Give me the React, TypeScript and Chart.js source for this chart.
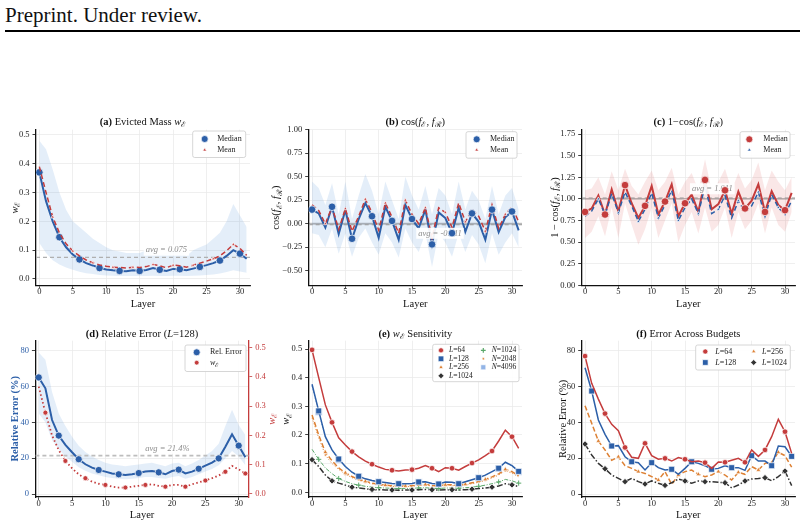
import React, { useEffect, useRef } from 'react';
import { Chart, registerables } from 'chart.js';
Chart.register(...registerables);

const FONT = '"Liberation Serif", "Times New Roman", "DejaVu Serif", serif';

// ---------------- data ----------------
const LAYERS = [0, 1, 2, 3, 4, 5, 6, 7, 8, 9, 10, 11, 12, 13, 14, 15, 16, 17, 18, 19, 20, 21, 22, 23, 24, 25, 26, 27, 28, 29, 30, 31];
const X_TICKS = [0, 5, 10, 15, 20, 25, 30];

// (a) evicted mass
const A_MEDIAN = [0.37, 0.27, 0.2, 0.145, 0.11, 0.085, 0.068, 0.055, 0.047, 0.038, 0.033, 0.03, 0.028, 0.027, 0.03, 0.028, 0.031, 0.038, 0.032, 0.028, 0.035, 0.034, 0.03, 0.036, 0.042, 0.048, 0.055, 0.064, 0.08, 0.1, 0.088, 0.07];
const A_MEAN = [0.39, 0.3, 0.215, 0.16, 0.122, 0.097, 0.08, 0.066, 0.056, 0.049, 0.044, 0.041, 0.04, 0.038, 0.041, 0.04, 0.043, 0.05, 0.046, 0.039, 0.048, 0.046, 0.041, 0.048, 0.055, 0.062, 0.07, 0.08, 0.098, 0.12, 0.106, 0.082];
const A_HI = [0.48, 0.45, 0.38, 0.3, 0.24, 0.2, 0.18, 0.16, 0.14, 0.125, 0.11, 0.1, 0.095, 0.09, 0.09, 0.09, 0.1, 0.1, 0.085, 0.09, 0.1, 0.095, 0.08, 0.1, 0.11, 0.12, 0.14, 0.16, 0.2, 0.26, 0.22, 0.18];
const A_LO = [0.125, 0.09, 0.065, 0.05, 0.04, 0.032, 0.025, 0.02, 0.017, 0.014, 0.012, 0.011, 0.01, 0.01, 0.01, 0.01, 0.01, 0.011, 0.01, 0.01, 0.011, 0.011, 0.01, 0.011, 0.012, 0.014, 0.016, 0.019, 0.024, 0.03, 0.026, 0.022];
const AVG_A = 0.075;
const A_YTICKS = [0, 0.1, 0.2, 0.3, 0.4, 0.5];

// (b) cos
const B_MEDIAN = [0.15, 0.11, -0.04, 0.18, -0.11, 0.145, -0.16, 0.05, 0.22, 0.08, -0.15, 0.18, 0.03, -0.17, 0.2, 0.05, -0.05, 0.15, -0.22, 0.12, 0.06, -0.1, 0.17, -0.085, 0.11, 0.02, -0.17, 0.15, -0.09, 0.07, 0.13, -0.07];
const B_MEAN = [0.2, 0.14, 0.0, 0.18, -0.06, 0.16, -0.08, 0.08, 0.26, 0.12, -0.07, 0.22, 0.07, -0.1, 0.25, 0.1, 0.0, 0.17, -0.15, 0.17, 0.12, -0.04, 0.22, 0.02, 0.15, 0.08, -0.08, 0.2, -0.05, 0.1, 0.18, 0.02];
const B_HI = [0.45, 0.38, 0.2, 0.43, 0.1, 0.45, 0.05, 0.3, 0.53, 0.35, 0.1, 0.45, 0.25, 0.05, 0.5, 0.3, 0.15, 0.4, 0.1, 0.38, 0.3, 0.1, 0.45, 0.15, 0.35, 0.25, 0.05, 0.4, 0.1, 0.3, 0.38, 0.15];
const B_LO = [-0.1, -0.12, -0.25, -0.05, -0.32, -0.1, -0.35, -0.15, -0.05, -0.2, -0.33, -0.1, -0.2, -0.36, -0.05, -0.2, -0.3, -0.1, -0.46, -0.1, -0.2, -0.35, -0.1, -0.3, -0.12, -0.22, -0.42, -0.1, -0.33, -0.2, -0.1, -0.25];
const AVG_B = -0.011;
const B_YTICKS = [-0.5, -0.25, 0, 0.25, 0.5, 0.75, 1.0];

// (c) 1 - cos
const C_MEDIAN = [0.85, 0.89, 1.04, 0.82, 1.11, 0.855, 1.16, 0.95, 0.78, 0.92, 1.15, 0.82, 0.97, 1.17, 0.8, 0.95, 1.05, 0.85, 1.22, 0.88, 0.94, 1.1, 0.83, 1.085, 0.89, 0.98, 1.17, 0.85, 1.09, 0.93, 0.87, 1.07];
const C_MEAN = [0.8, 0.86, 1.0, 0.82, 1.06, 0.84, 1.08, 0.92, 0.74, 0.88, 1.07, 0.78, 0.93, 1.1, 0.75, 0.9, 1.0, 0.83, 1.15, 0.83, 0.88, 1.04, 0.78, 0.98, 0.85, 0.92, 1.08, 0.8, 1.05, 0.9, 0.82, 0.98];
const C_HI = [1.1, 1.12, 1.25, 1.05, 1.32, 1.1, 1.35, 1.15, 1.05, 1.2, 1.33, 1.1, 1.2, 1.36, 1.05, 1.2, 1.3, 1.1, 1.46, 1.1, 1.2, 1.35, 1.1, 1.3, 1.12, 1.22, 1.42, 1.1, 1.33, 1.2, 1.1, 1.25];
const C_LO = [0.55, 0.62, 0.8, 0.57, 0.9, 0.55, 0.95, 0.7, 0.47, 0.65, 0.9, 0.55, 0.75, 0.95, 0.5, 0.7, 0.85, 0.6, 0.9, 0.62, 0.7, 0.9, 0.55, 0.85, 0.65, 0.75, 0.95, 0.6, 0.9, 0.7, 0.62, 0.85];
const AVG_C = 1.011;
const C_YTICKS = [0, 0.25, 0.5, 0.75, 1.0, 1.25, 1.5, 1.75];

// (d) relative error L=128
const D_ERR = [65.1, 59, 41.3, 32.6, 27.4, 23.3, 19.4, 16.6, 14.7, 13.4, 12.5, 11.5, 11, 10.6, 11, 11.7, 12.5, 12.8, 12.1, 11, 12.8, 13.6, 11.5, 12.5, 14.1, 15.8, 17.5, 19.9, 26.4, 33.3, 27, 20.5];
const D_HI = [79, 75, 57, 45, 38, 32, 27, 23.5, 21, 19, 17.5, 16.5, 16, 15.5, 16, 16.5, 17, 17.5, 16.5, 15.5, 17, 17.5, 15.5, 17, 19, 21.5, 24, 28, 38, 47, 38.5, 33];
const D_LO = [45, 40, 30, 25, 21, 18, 15, 13, 11.5, 10.5, 9.5, 9, 8.5, 8.3, 8.5, 9, 9.5, 9.5, 9, 8.5, 9.5, 10, 8.5, 9.5, 11, 12.5, 14, 16, 20, 24, 21, 16];
const D_W = [0.367, 0.278, 0.2, 0.15, 0.113, 0.088, 0.067, 0.054, 0.042, 0.035, 0.031, 0.025, 0.022, 0.022, 0.025, 0.028, 0.031, 0.033, 0.028, 0.025, 0.031, 0.031, 0.025, 0.033, 0.04, 0.046, 0.054, 0.063, 0.076, 0.096, 0.084, 0.07];
const AVG_D = 21.4;
const PCT_YTICKS = [0, 20, 40, 60, 80];
const W_YTICKS = [0, 0.1, 0.2, 0.3, 0.4, 0.5];

// (e) w sensitivity
const E_L64 = [0.497, 0.4, 0.305, 0.244, 0.19, 0.165, 0.142, 0.124, 0.109, 0.098, 0.088, 0.08, 0.077, 0.074, 0.078, 0.079, 0.084, 0.093, 0.084, 0.072, 0.086, 0.084, 0.077, 0.09, 0.102, 0.113, 0.128, 0.144, 0.179, 0.217, 0.194, 0.153];
const E_L128 = [0.377, 0.284, 0.194, 0.148, 0.116, 0.09, 0.07, 0.056, 0.047, 0.041, 0.037, 0.034, 0.031, 0.03, 0.03, 0.031, 0.036, 0.037, 0.031, 0.029, 0.036, 0.035, 0.03, 0.037, 0.044, 0.051, 0.06, 0.072, 0.084, 0.105, 0.093, 0.073];
const E_L256 = [0.27, 0.2, 0.14, 0.11, 0.085, 0.068, 0.055, 0.045, 0.038, 0.032, 0.028, 0.025, 0.023, 0.022, 0.022, 0.023, 0.026, 0.027, 0.024, 0.022, 0.026, 0.026, 0.023, 0.028, 0.033, 0.038, 0.045, 0.054, 0.064, 0.08, 0.072, 0.058];
const E_L1024 = [0.114, 0.09, 0.06, 0.04, 0.032, 0.025, 0.018, 0.015, 0.012, 0.01, 0.009, 0.008, 0.008, 0.007, 0.008, 0.008, 0.009, 0.01, 0.009, 0.008, 0.009, 0.009, 0.008, 0.009, 0.011, 0.013, 0.015, 0.018, 0.022, 0.03, 0.026, 0.02];
const E_N1024 = [0.15, 0.115, 0.085, 0.065, 0.048, 0.038, 0.03, 0.025, 0.021, 0.018, 0.016, 0.015, 0.014, 0.013, 0.013, 0.014, 0.015, 0.016, 0.014, 0.013, 0.015, 0.015, 0.014, 0.016, 0.018, 0.021, 0.025, 0.03, 0.036, 0.045, 0.04, 0.032];
const E_N2048 = [0.26, 0.19, 0.13, 0.1, 0.08, 0.063, 0.051, 0.042, 0.035, 0.03, 0.026, 0.023, 0.021, 0.02, 0.02, 0.021, 0.024, 0.025, 0.022, 0.02, 0.024, 0.024, 0.021, 0.026, 0.03, 0.035, 0.042, 0.05, 0.06, 0.075, 0.067, 0.054];
const E_N4096 = [0.37, 0.28, 0.19, 0.145, 0.114, 0.088, 0.069, 0.055, 0.046, 0.04, 0.036, 0.033, 0.03, 0.029, 0.029, 0.03, 0.035, 0.036, 0.03, 0.028, 0.035, 0.034, 0.029, 0.036, 0.043, 0.05, 0.059, 0.071, 0.083, 0.103, 0.091, 0.072];

// (f) error across budgets
const F_L64 = [77, 61.8, 53, 44.9, 38.9, 35.4, 26, 20.5, 19.9, 28.3, 21.4, 19.4, 19.9, 18.4, 20.3, 19.4, 18, 18.4, 17.5, 14.3, 17.9, 17.7, 18.8, 19.9, 17.7, 24.6, 21, 24.6, 32, 41.7, 34.8, 22.7];
const F_L128 = [70.5, 57.5, 41.3, 33.3, 26.8, 27, 20.8, 18, 17.5, 13.4, 17.5, 14.7, 13.4, 13.8, 11, 14.3, 18, 17.1, 15.8, 13.8, 14.3, 15.8, 14.7, 14.7, 13.2, 21.4, 18.4, 18.4, 15.8, 26.8, 26.4, 21];
const F_L256 = [49.3, 39.5, 29.6, 24.6, 18.8, 20.8, 15.8, 14.3, 12.5, 11.5, 9.7, 7.8, 12.5, 5.4, 10.6, 12.5, 13.4, 11, 9.7, 10.6, 12.5, 10.6, 7.8, 12.1, 11, 15.3, 13.4, 17.1, 17.7, 23.3, 21.4, 15];
const F_L1024 = [27.9, 21.8, 17.1, 14.1, 10.6, 8.7, 6.9, 8.7, 6.9, 5.6, 7.3, 6, 4.8, 6.3, 8.4, 7.3, 6, 7.3, 6.9, 6.9, 6.5, 6.3, 3.4, 5, 7.3, 8.4, 8.7, 9.1, 7.4, 9.7, 12.8, 4.7];

// ---------------- styling ----------------
const BLUE = '#2c5fa8';
const RED = '#c43c3c';
const ORANGE = '#dd8033';
const DARK = '#333333';
const GREEN = '#5aa86a';
const LIGHTBLUE = '#92b4e6';
const BAND_BLUE = 'rgba(66,133,210,0.14)';
const BAND_RED = 'rgba(215,70,70,0.13)';

type Seg = { t: string; i?: boolean; b?: boolean; sub?: boolean };

function fontOf(s: Seg, size: number) {
  const sz = s.sub ? size * 0.72 : size;
  return `${s.i ? 'italic ' : ''}${s.b ? 'bold ' : ''}${sz}px ${FONT}`;
}
function richWidth(ctx: CanvasRenderingContext2D, segs: Seg[], size: number) {
  let w = 0;
  for (const s of segs) {
    ctx.font = fontOf(s, size);
    w += ctx.measureText(s.t).width;
  }
  return w;
}
function drawRich(ctx: CanvasRenderingContext2D, segs: Seg[], x: number, y: number, size: number, color: string, align: 'center' | 'left') {
  const w = richWidth(ctx, segs, size);
  let cx = align === 'center' ? x - w / 2 : x;
  ctx.fillStyle = color;
  ctx.textBaseline = 'middle';
  ctx.textAlign = 'left';
  for (const s of segs) {
    ctx.font = fontOf(s, size);
    ctx.fillText(s.t, cx, y + (s.sub ? size * 0.3 : 0));
    cx += ctx.measureText(s.t).width;
  }
}
function drawMarker(ctx: CanvasRenderingContext2D, style: string, x: number, y: number, r: number, fill: string) {
  ctx.beginPath();
  if (style === 'circle') ctx.arc(x, y, r, 0, Math.PI * 2);
  else if (style === 'rect') {
    const h = r * Math.SQRT1_2;
    ctx.rect(x - h, y - h, 2 * h, 2 * h);
  } else if (style === 'rectRot') {
    ctx.moveTo(x, y - r); ctx.lineTo(x + r, y); ctx.lineTo(x, y + r); ctx.lineTo(x - r, y); ctx.closePath();
  } else if (style === 'triangle') {
    ctx.moveTo(x, y - r); ctx.lineTo(x + r * 0.87, y + r * 0.5); ctx.lineTo(x - r * 0.87, y + r * 0.5); ctx.closePath();
  } else if (style === 'cross') {
    ctx.moveTo(x - r, y); ctx.lineTo(x + r, y); ctx.moveTo(x, y - r); ctx.lineTo(x, y + r);
    ctx.strokeStyle = fill; ctx.lineWidth = 1.2; ctx.stroke();
    return;
  }
  ctx.fillStyle = fill;
  ctx.fill();
  ctx.strokeStyle = 'rgba(255,255,255,0.9)';
  ctx.lineWidth = 0.8;
  ctx.stroke();
}

const pts = (ys: number[]) => LAYERS.map((x, i) => ({ x, y: ys[i] }));

interface LineOpt { width?: number; dash?: number[]; marker?: string; r?: number; every?: number; offset?: number; order?: number; axis?: string; pstroke?: string; pbw?: number; showLine?: boolean }
function lineDs(label: string, ys: number[], color: string, o: LineOpt) {
  const every = o.every ?? 3;
  return {
    label,
    data: pts(ys),
    borderColor: color,
    backgroundColor: color,
    borderWidth: o.width ?? 1.5,
    borderDash: o.dash ?? [],
    fill: false,
    showLine: o.showLine !== false,
    pointStyle: o.marker ?? 'circle',
    pointRadius: (c: any) => (o.r && typeof c.dataIndex === 'number' && c.dataIndex % every === (o.offset ?? 0) ? o.r : 0),
    pointHoverRadius: 0,
    pointBackgroundColor: color,
    pointBorderColor: o.pstroke ?? 'rgba(255,255,255,0.9)',
    pointBorderWidth: o.pbw ?? 0.8,
    yAxisID: o.axis ?? 'y',
    order: o.order ?? 2,
  };
}
function hline(y: number, color: string, width: number, dash: number[], order = 8, axis = 'y') {
  return { data: [{ x: -0.5, y }, { x: 31.5, y }], borderColor: color, borderWidth: width, borderDash: dash, pointRadius: 0, fill: false, order, yAxisID: axis };
}
function band(hi: number[], lo: number[], color: string) {
  return [
    { data: pts(hi), borderWidth: 0, borderColor: 'rgba(0,0,0,0)', backgroundColor: color, pointRadius: 0, fill: '+1', order: 20 },
    { data: pts(lo), borderWidth: 0, borderColor: 'rgba(0,0,0,0)', backgroundColor: color, pointRadius: 0, fill: false, order: 20 },
  ];
}

interface LegendEntry { style: string; color: string; r: number; label: Seg[]; col: number; row: number }
interface LegendSpec { rightOff: number; topOff: number; w: number; h: number; row0: number; rowH: number; mdx: number[]; tdx: number[]; size: number; entries: LegendEntry[] }
interface AxisSpec { min: number; max: number; ticks: number[]; dec: number; color: string }
interface Spec {
  left: number; top: number; W: number; H: number; yw: number; rw?: number; padRight: number; xh: number; areaTop: number;
  title: Seg[]; titleDy: number;
  ylabel: Seg[]; ylOff: number; ylColor: string;
  y2label?: Seg[]; y2Off?: number; y2Color?: string;
  legend: LegendSpec;
  avg?: { x: number; y: number; text: string; beforeIndex?: number };
  datasets: any[];
  y: AxisSpec; y2?: AxisSpec;
}

const fmt = (v: number, dec: number) => (v < 0 ? '\u2212' : '') + Math.abs(v).toFixed(dec);

function decor(spec: Spec) {
  const drawAvg = (chart: any) => {
    const a = spec.avg!;
    const ctx: CanvasRenderingContext2D = chart.ctx;
    const px = chart.scales.x.getPixelForValue(a.x);
    const py = chart.scales.y.getPixelForValue(a.y);
    ctx.save();
    ctx.font = `italic 8.5px ${FONT}`;
    const w = ctx.measureText(a.text).width;
    ctx.fillStyle = 'rgba(255,255,255,0.92)';
    ctx.fillRect(px - w / 2 - 2, py - 5.5, w + 4, 11);
    ctx.fillStyle = '#8c8c8c';
    ctx.textAlign = 'center';
    ctx.textBaseline = 'middle';
    ctx.fillText(a.text, px, py);
    ctx.restore();
  };
  return {
    id: 'decor',
    beforeDatasetDraw(chart: any, args: any) {
      if (spec.avg && spec.avg.beforeIndex === args.index) drawAvg(chart);
    },
    afterDatasetsDraw(chart: any) {
      if (spec.avg && spec.avg.beforeIndex === undefined) drawAvg(chart);
    },
    afterDraw(chart: any) {
      const ctx: CanvasRenderingContext2D = chart.ctx;
      const ca = chart.chartArea;
      const cx = (ca.left + ca.right) / 2;
      const cy = (ca.top + ca.bottom) / 2;
      ctx.save();
      drawRich(ctx, spec.title, cx, ca.top - spec.titleDy, 10.5, '#111', 'center');
      drawRich(ctx, [{ t: 'Layer' }], cx, ca.bottom + 18.7, 10.5, '#111', 'center');
      ctx.save();
      ctx.translate(ca.left - spec.ylOff, cy);
      ctx.rotate(-Math.PI / 2);
      drawRich(ctx, spec.ylabel, 0, 0, 10.5, spec.ylColor, 'center');
      ctx.restore();
      if (spec.y2label) {
        ctx.save();
        ctx.translate(ca.right + (spec.y2Off ?? 20), cy);
        ctx.rotate(-Math.PI / 2);
        drawRich(ctx, spec.y2label, 0, 0, 10.5, spec.y2Color ?? '#111', 'center');
        ctx.restore();
      }
      // legend
      const L = spec.legend;
      const bx = ca.right - L.rightOff - L.w;
      const by = ca.top + L.topOff;
      ctx.beginPath();
      const rr = 2;
      ctx.moveTo(bx + rr, by);
      ctx.arcTo(bx + L.w, by, bx + L.w, by + L.h, rr);
      ctx.arcTo(bx + L.w, by + L.h, bx, by + L.h, rr);
      ctx.arcTo(bx, by + L.h, bx, by, rr);
      ctx.arcTo(bx, by, bx + L.w, by, rr);
      ctx.closePath();
      ctx.fillStyle = 'rgba(255,255,255,0.92)';
      ctx.fill();
      ctx.strokeStyle = '#cccccc';
      ctx.lineWidth = 0.8;
      ctx.stroke();
      for (const e of L.entries) {
        const yy = by + L.row0 + e.row * L.rowH;
        drawMarker(ctx, e.style, bx + L.mdx[e.col], yy, e.r, e.color);
        drawRich(ctx, e.label, bx + L.tdx[e.col], yy, L.size, '#222', 'left');
      }
      ctx.restore();
    },
  };
}

function yScale(a: AxisSpec, width: number, position: 'left' | 'right', grid: boolean, borderColor: string) {
  return {
    type: 'linear',
    position,
    min: a.min,
    max: a.max,
    afterBuildTicks: (s: any) => {
      s.ticks = a.ticks.map((v) => ({ value: v }));
    },
    afterFit: (s: any) => {
      s.width = width;
    },
    ticks: { font: { family: FONT, size: 8.5 }, color: a.color, padding: 3, callback: (v: any) => fmt(Number(v), a.dec) },
    grid: { display: true, drawOnChartArea: grid, color: '#ebebeb', lineWidth: 0.8, tickLength: 3.5, tickColor: borderColor, tickWidth: 0.8 },
    border: { color: borderColor, width: 1.3 },
  };
}

function buildConfig(spec: Spec): any {
  const scales: any = {
    x: {
      type: 'linear',
      min: -0.5,
      max: 31.5,
      afterBuildTicks: (s: any) => {
        s.ticks = X_TICKS.map((v) => ({ value: v }));
      },
      afterFit: (s: any) => {
        s.height = spec.xh;
      },
      ticks: { font: { family: FONT, size: 8.5 }, color: '#222', padding: -1.5, maxRotation: 0, autoSkip: false, callback: (v: any) => String(v) },
      grid: { color: '#ebebeb', lineWidth: 0.8, tickLength: 3, tickColor: '#222', tickWidth: 0.8 },
      border: { color: '#111', width: 1.3 },
    },
    y: yScale(spec.y, spec.yw, 'left', true, '#111'),
  };
  if (spec.y2) scales.y2 = yScale(spec.y2, spec.rw ?? 30, 'right', false, RED);
  return {
    type: 'line',
    data: { datasets: spec.datasets },
    options: {
      responsive: false,
      animation: false,
      devicePixelRatio: 1,
      events: [],
      layout: { padding: { left: 0, top: spec.areaTop, right: spec.padRight, bottom: 0 }, autoPadding: false },
      plugins: { legend: { display: false }, tooltip: { enabled: false }, title: { display: false } },
      elements: { line: { tension: 0 } },
      scales,
    },
    plugins: [decor(spec)],
  };
}

const wE: Seg[] = [{ t: 'w', i: true }, { t: '\u2130', sub: true }];
const fEfR: Seg[] = [{ t: 'f', i: true }, { t: '\u2130', sub: true }, { t: ', ' }, { t: 'f', i: true }, { t: '\u211B', sub: true }, { t: ')' }];
const Lab = (n: string): Seg[] => [{ t: 'L', i: true }, { t: '=' + n }];
const Nab = (n: string): Seg[] => [{ t: 'N', i: true }, { t: '=' + n }];

const ROW1 = { top: 110, H: 205, areaTop: 19.7, xh: 29.5, titleDy: 7.7 };
const ROW2 = { top: 322, H: 206, areaTop: 18.7, xh: 31, titleDy: 6.8 };

const twoRowLegend = (rightOff: number, topOff: number, w: number, mdx: number, tdx: number, row0: number, rowH: number, entries: LegendEntry[]): LegendSpec => ({
  rightOff, topOff, w, h: 26.5, row0, rowH, mdx: [mdx], tdx: [tdx], size: 8, entries,
});

const SPECS: Spec[] = [
  {
    left: 0, W: 282, yw: 36, padRight: 32, ...ROW1,
    title: [{ t: '(a)', b: true }, { t: ' Evicted Mass ' }, ...wE],
    ylabel: wE, ylOff: 21, ylColor: '#111',
    legend: twoRowLegend(4.3, 1.3, 53, 12, 24.5, 8, 11, [
      { style: 'circle', color: BLUE, r: 3.5, label: [{ t: 'Median' }], col: 0, row: 0 },
      { style: 'triangle', color: RED, r: 2.2, label: [{ t: 'Mean' }], col: 0, row: 1 },
    ]),
    avg: { x: 19.0, y: 0.1, text: `avg = ${AVG_A.toFixed(3)}` },
    y: { min: -0.0226, max: 0.518, ticks: A_YTICKS, dec: 1, color: '#222' },
    datasets: [
      lineDs('Median', A_MEDIAN, BLUE, { width: 2, marker: 'circle', r: 3.8, offset: 0, order: 3 }),
      lineDs('Mean', A_MEAN, RED, { width: 1.5, dash: [5, 3], marker: 'triangle', r: 2, offset: 2, order: 2 }),
      hline(AVG_A, '#b0b0b0', 1.2, [4, 3]),
      ...band(A_HI, A_LO, BAND_BLUE),
    ],
  },
  {
    left: 268, W: 272, yw: 40.7, padRight: 18, ...ROW1,
    title: [{ t: '(b)', b: true }, { t: ' cos(' }, ...fEfR],
    ylabel: [{ t: 'cos(' }, ...fEfR], ylOff: 32, ylColor: '#111',
    legend: twoRowLegend(5, 2, 51, 10.7, 24, 7.6, 10.7, [
      { style: 'circle', color: BLUE, r: 3.5, label: [{ t: 'Median' }], col: 0, row: 0 },
      { style: 'triangle', color: RED, r: 2.2, label: [{ t: 'Mean' }], col: 0, row: 1 },
    ]),
    avg: { x: 19.2, y: -0.102, text: `avg = ${AVG_B.toFixed(3)}`, beforeIndex: 2 },
    y: { min: -0.657, max: 1.0, ticks: B_YTICKS, dec: 2, color: '#222' },
    datasets: [
      lineDs('Median', B_MEDIAN, BLUE, { width: 2, r: 0, order: 3 }),
      lineDs('Mean', B_MEAN, RED, { width: 1.5, dash: [5, 3], marker: 'triangle', r: 2, offset: 2, order: 2 }),
      lineDs('Median', B_MEDIAN, BLUE, { showLine: false, marker: 'circle', r: 3.8, offset: 0, order: 0 }),
      hline(0, 'rgba(0,0,0,0.22)', 1.8, [], 9),
      hline(AVG_B, '#9a9a9a', 1, [4, 3]),
      ...band(B_HI, B_LO, BAND_BLUE),
    ],
  },
  {
    left: 541, W: 263, yw: 40.7, padRight: 9, ...ROW1,
    title: [{ t: '(c)', b: true }, { t: ' 1\u2212cos(' }, ...fEfR],
    ylabel: [{ t: '1 \u2212 cos(' }, ...fEfR], ylOff: 26.7, ylColor: '#111',
    legend: twoRowLegend(5, 2, 50, 9.3, 23.3, 7.6, 10.7, [
      { style: 'circle', color: RED, r: 3.5, label: [{ t: 'Median' }], col: 0, row: 0 },
      { style: 'triangle', color: BLUE, r: 2.2, label: [{ t: 'Mean' }], col: 0, row: 1 },
    ]),
    avg: { x: 19.1, y: 1.118, text: `avg = ${AVG_C.toFixed(3)}`, beforeIndex: 2 },
    y: { min: 0, max: 1.8, ticks: C_YTICKS, dec: 2, color: '#222' },
    datasets: [
      lineDs('Median', C_MEDIAN, RED, { width: 2, r: 0, order: 3 }),
      lineDs('Mean', C_MEAN, BLUE, { width: 1.5, dash: [5, 3], marker: 'triangle', r: 2, offset: 2, order: 2 }),
      lineDs('Median', C_MEDIAN, RED, { showLine: false, marker: 'circle', r: 3.8, offset: 0, order: 0 }),
      hline(1, 'rgba(0,0,0,0.22)', 1.8, [], 9),
      hline(AVG_C, '#9a9a9a', 1, [4, 3]),
      ...band(C_HI, C_LO, BAND_RED),
    ],
  },
  {
    left: 0, W: 282, yw: 35.4, rw: 33.3, padRight: 0, ...ROW2,
    title: [{ t: '(d)', b: true }, { t: ' Relative Error (' }, { t: 'L', i: true }, { t: '=128)' }],
    ylabel: [{ t: 'Relative Error (%)', b: true }], ylOff: 20.4, ylColor: BLUE,
    y2label: wE, y2Off: 23.5, y2Color: RED,
    legend: twoRowLegend(2.7, 4.3, 61, 11.7, 25, 7.3, 10.4, [
      { style: 'circle', color: BLUE, r: 3.5, label: [{ t: 'Rel. Error' }], col: 0, row: 0 },
      { style: 'circle', color: RED, r: 2.4, label: wE, col: 0, row: 1 },
    ]),
    avg: { x: 19.3, y: 25.5, text: `avg = ${AVG_D.toFixed(1)}%` },
    y: { min: -1.675, max: 85.6, ticks: PCT_YTICKS, dec: 0, color: BLUE },
    y2: { min: -0.0103, max: 0.524, ticks: W_YTICKS, dec: 1, color: RED },
    datasets: [
      lineDs('Rel. Error', D_ERR, BLUE, { width: 2, marker: 'circle', r: 3.6, offset: 0, order: 2 }),
      lineDs('w', D_W, RED, { width: 1.8, dash: [1.5, 2.5], marker: 'circle', r: 2.5, offset: 1, order: 3, axis: 'y2' }),
      hline(AVG_D, '#bdbdbd', 1.8, [4, 3]),
      ...band(D_HI, D_LO, BAND_BLUE),
    ],
  },
  {
    left: 268, W: 272, yw: 40.7, padRight: 18, ...ROW2,
    title: [{ t: '(e)', b: true }, { t: ' ' }, ...wE, { t: ' Sensitivity' }],
    ylabel: wE, ylOff: 22, ylColor: '#111',
    legend: {
      rightOff: 3, topOff: 3.6, w: 86.3, h: 37.4, row0: 6, rowH: 8.5, mdx: [8.3, 50.6], tdx: [16.3, 59], size: 7.6,
      entries: [
        { style: 'circle', color: RED, r: 2.6, label: Lab('64'), col: 0, row: 0 },
        { style: 'rect', color: BLUE, r: 4, label: Lab('128'), col: 0, row: 1 },
        { style: 'triangle', color: ORANGE, r: 2.6, label: Lab('256'), col: 0, row: 2 },
        { style: 'rectRot', color: DARK, r: 3, label: Lab('1024'), col: 0, row: 3 },
        { style: 'cross', color: GREEN, r: 2.4, label: Nab('1024'), col: 1, row: 0 },
        { style: 'circle', color: ORANGE, r: 1.2, label: Nab('2048'), col: 1, row: 1 },
        { style: 'rect', color: LIGHTBLUE, r: 3.6, label: Nab('4096'), col: 1, row: 2 },
      ],
    },
    y: { min: -0.0164, max: 0.529, ticks: W_YTICKS, dec: 1, color: '#222' },
    datasets: [
      lineDs('L=64', E_L64, RED, { width: 1.5, marker: 'circle', r: 2.8, offset: 0, order: 1 }),
      lineDs('L=128', E_L128, BLUE, { width: 1.5, marker: 'rect', r: 4.2, offset: 1, order: 2 }),
      lineDs('L=256', E_L256, ORANGE, { width: 1.5, dash: [5, 2.5], marker: 'triangle', r: 2.8, offset: 2, order: 3 }),
      lineDs('L=1024', E_L1024, DARK, { width: 1.5, dash: [6, 2, 1.5, 2], marker: 'rectRot', r: 3.2, offset: 0, order: 2 }),
      lineDs('N=1024', E_N1024, GREEN, { width: 1, dash: [4, 1.5, 1, 1.5], marker: 'cross', r: 2.6, offset: 1, order: 4, pstroke: GREEN, pbw: 1 }),
      lineDs('N=2048', E_N2048, ORANGE, { width: 1, dash: [1, 2], marker: 'circle', r: 1.2, offset: 2, order: 4 }),
      lineDs('N=4096', E_N4096, LIGHTBLUE, { width: 1, dash: [1, 2], marker: 'rect', r: 5, offset: 1, order: 5 }),
    ],
  },
  {
    left: 541, W: 263, yw: 40.7, padRight: 9, ...ROW2,
    title: [{ t: '(f)', b: true }, { t: ' Error Across Budgets' }],
    ylabel: [{ t: 'Relative Error (%)' }], ylOff: 18.7, ylColor: '#111',
    legend: {
      rightOff: 4.7, topOff: 4.3, w: 94.6, h: 25, row0: 6.5, rowH: 11, mdx: [9.6, 58], tdx: [19.6, 66.3], size: 8,
      entries: [
        { style: 'circle', color: RED, r: 2.6, label: Lab('64'), col: 0, row: 0 },
        { style: 'rect', color: BLUE, r: 4, label: Lab('128'), col: 0, row: 1 },
        { style: 'triangle', color: ORANGE, r: 2.6, label: Lab('256'), col: 1, row: 0 },
        { style: 'rectRot', color: DARK, r: 3, label: Lab('1024'), col: 1, row: 1 },
      ],
    },
    y: { min: -1.675, max: 85.6, ticks: PCT_YTICKS, dec: 0, color: '#222' },
    datasets: [
      lineDs('L=64', F_L64, RED, { width: 1.5, marker: 'circle', r: 2.8, offset: 0, order: 1 }),
      lineDs('L=128', F_L128, BLUE, { width: 1.5, marker: 'rect', r: 4.2, offset: 1, order: 2 }),
      lineDs('L=256', F_L256, ORANGE, { width: 1.5, dash: [5, 2.5], marker: 'triangle', r: 2.8, offset: 2, order: 3 }),
      lineDs('L=1024', F_L1024, DARK, { width: 1.5, dash: [6, 2, 1.5, 2], marker: 'rectRot', r: 3.2, offset: 0, order: 2 }),
    ],
  },
];

function ChartBox({ spec }: { spec: Spec }) {
  const ref = useRef<HTMLCanvasElement>(null);
  useEffect(() => {
    const chart = new Chart(ref.current as HTMLCanvasElement, buildConfig(spec));
    return () => chart.destroy();
  }, [spec]);
  return (
    <canvas
      ref={ref}
      width={spec.W}
      height={spec.H}
      style={{ position: 'absolute', left: spec.left, top: spec.top, width: spec.W, height: spec.H }}
    />
  );
}

export default function App() {
  return (
    <div style={{ position: 'absolute', left: 0, top: 0, width: 804, height: 528, background: '#fff', overflow: 'hidden' }}>
      <div
        style={{
          position: 'absolute', left: 5, top: 5, fontFamily: FONT, fontSize: 21, lineHeight: 1,
          color: '#111', whiteSpace: 'nowrap',
        }}
      >
        Preprint. Under review.
      </div>
      <div style={{ position: 'absolute', left: 5, top: 29.5, width: 795, height: 2.3, background: '#000' }} />
      {SPECS.map((s, i) => (
        <ChartBox key={i} spec={s} />
      ))}
    </div>
  );
}
